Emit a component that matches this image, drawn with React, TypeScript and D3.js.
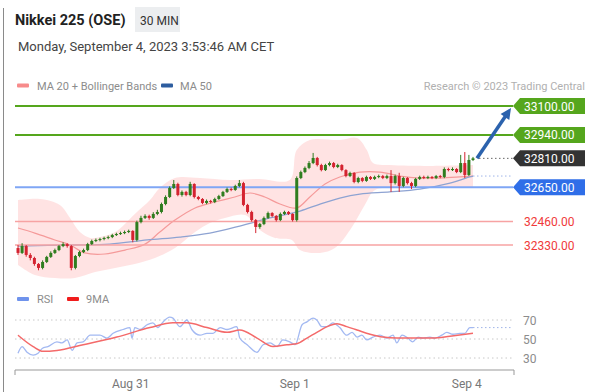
import React from "react";
import * as d3 from "d3";

// 30 min candles, Aug 30 -> Sep 4 (index based, weekend gap removed)
const firstOpen = 32313;
const closes = [
  32286, 32324, 32275, 32258, 32225, 32203, 32236, 32264, 32286, 32302,
  32324, 32335, 32324, 32203, 32269, 32291, 32302, 32335, 32352, 32358,
  32363, 32369, 32374, 32385, 32391, 32396, 32402, 32408, 32358, 32457,
  32480, 32491, 32480, 32502, 32513, 32557, 32596, 32646, 32668, 32607,
  32624, 32607, 32668, 32596, 32585, 32563, 32574, 32568, 32585, 32601,
  32624, 32640, 32635, 32657, 32673, 32552, 32513, 32468, 32430, 32446,
  32480, 32507, 32491, 32468, 32502, 32513, 32502, 32468, 32701, 32734,
  32757, 32784, 32812, 32773, 32745, 32773, 32784, 32762, 32773, 32745,
  32712, 32729, 32679, 32701, 32685, 32707, 32696, 32707, 32712, 32701,
  32712, 32673, 32712, 32657, 32701, 32673, 32657, 32696, 32707, 32701,
  32707, 32701, 32712, 32707, 32751, 32745, 32751, 32734, 32784, 32718,
  32801, 32810,
];
const highs = [
  32330, 32340, 32330, 32285, 32265, 32230, 32245, 32270, 32295, 32310,
  32330, 32345, 32340, 32330, 32275, 32298, 32310, 32342, 32360, 32366,
  32370, 32376, 32382, 32392, 32398, 32404, 32410, 32415, 32412, 32465,
  32492, 32500, 32498, 32512, 32525, 32565, 32605, 32655, 32690, 32675,
  32632, 32630, 32680, 32672, 32602, 32590, 32582, 32580, 32592, 32608,
  32630, 32648, 32648, 32664, 32690, 32680, 32558, 32520, 32474, 32452,
  32488, 32515, 32512, 32496, 32510, 32520, 32518, 32506, 32710, 32742,
  32765, 32795, 32840, 32818, 32780, 32780, 32792, 32790, 32780, 32778,
  32750, 32736, 32734, 32708, 32706, 32714, 32712, 32714, 32720, 32718,
  32720, 32745, 32720, 32730, 32708, 32706, 32680, 32702, 32714, 32714,
  32714, 32712, 32718, 32718, 32760, 32758, 32760, 32756, 32829, 32845,
  32829, 32818,
];
const lows = [
  32275, 32280, 32265, 32245, 32215, 32190, 32195, 32230, 32258, 32280,
  32296, 32318, 32315, 32190, 32195, 32262, 32285, 32296, 32330, 32346,
  32350, 32356, 32362, 32368, 32380, 32386, 32390, 32396, 32345, 32350,
  32450, 32474, 32470, 32474, 32495, 32505, 32550, 32590, 32640, 32600,
  32598, 32600, 32600, 32588, 32578, 32556, 32556, 32560, 32562, 32580,
  32596, 32618, 32628, 32630, 32650, 32545, 32505, 32460, 32396, 32420,
  32440, 32474, 32484, 32460, 32462, 32496, 32496, 32460, 32460, 32695,
  32728, 32750, 32778, 32765, 32738, 32740, 32766, 32755, 32756, 32738,
  32705, 32706, 32672, 32672, 32678, 32680, 32690, 32690, 32700, 32695,
  32695, 32624, 32665, 32624, 32650, 32665, 32640, 32650, 32690, 32695,
  32695, 32695, 32695, 32700, 32700, 32738, 32740, 32728, 32728, 32701,
  32712, 32795,
];

// indicator lines: [candle index, value]
const ma20: [number, number][] = [
  [0, 32424], [4.1, 32396], [9, 32358], [12.7, 32330], [16.3, 32286],
  [21.2, 32280], [26.1, 32302], [31, 32335], [34.6, 32402], [38.3, 32468],
  [43.2, 32535], [48, 32568], [52.9, 32596], [56.6, 32618], [60.2, 32596],
  [63.9, 32557], [68, 32535], [71.2, 32596], [74.9, 32668], [78.5, 32707],
  [83.4, 32734], [88.3, 32734], [93.2, 32712], [98, 32701], [102.9, 32701],
  [107.8, 32707], [111, 32712],
];
const bandUpper: [number, number][] = [
  [0, 32579], [5.4, 32585], [10.2, 32552], [12.7, 32480], [15.1, 32402],
  [17.6, 32369], [20, 32374], [23.7, 32402], [28.5, 32502], [32.2, 32579],
  [34.6, 32646], [38.3, 32701], [44.4, 32701], [51.7, 32690], [59, 32696],
  [66.3, 32690], [68, 32856], [71.2, 32912], [78.5, 32912], [82.7, 32923],
  [85.1, 32856], [86.6, 32784], [90.7, 32773], [100.5, 32768], [111, 32773],
];
const bandLower: [number, number][] = [
  [0, 32219], [4.1, 32164], [9, 32147], [13.9, 32147], [18.8, 32180],
  [23.7, 32203], [28.5, 32225], [33.4, 32258], [38.3, 32313], [43.2, 32402],
  [46.8, 32452], [50.5, 32480], [55.4, 32496], [59, 32413], [62.7, 32369],
  [66.8, 32358], [68.8, 32302], [73.7, 32286], [77.3, 32313], [81, 32413],
  [84.6, 32552], [87.1, 32635], [93.2, 32646], [102.9, 32646], [111, 32651],
];
const ma50: [number, number][] = [
  [0, 32324], [12.7, 32330], [22.4, 32335], [31.5, 32358], [39.5, 32374],
  [46.8, 32396], [54.1, 32435], [61.5, 32480], [68.8, 32518], [73.7, 32557],
  [78.5, 32590], [83.4, 32612], [90.7, 32624], [98, 32640], [105.4, 32673],
  [110.2, 32707], [111, 32712],
];

const rsi: [number, number][] = [
  [0, 35], [1, 42], [2.2, 36], [3.7, 33], [4.9, 35], [5.9, 40], [7.3, 42],
  [9.5, 47], [10.7, 46], [12, 49], [13.2, 38], [14.4, 46], [15.9, 47],
  [17.6, 54], [20, 54], [21.7, 51], [23.2, 56], [25.6, 60], [27.3, 62],
  [27.8, 51], [28.5, 62], [29.8, 60], [31.5, 65], [32.9, 67], [34.1, 62],
  [35.4, 68], [37, 73], [37.8, 72], [39.5, 63], [41.2, 70], [42.4, 60],
  [44.4, 54], [46.1, 56], [47.6, 56], [49.3, 62], [51, 60], [53.4, 63],
  [54.1, 51], [55.9, 44], [58.3, 36], [59.8, 44], [61.5, 46], [63.2, 42],
  [64.6, 49], [66.3, 47], [67.6, 44], [69.3, 65], [70.5, 68], [72, 72],
  [72.9, 70], [74.1, 63], [75.4, 63], [76.8, 67], [78.5, 62], [80.2, 54],
  [81.5, 57], [82.7, 52], [83.9, 54], [85.1, 49], [86.6, 52], [88.3, 54],
  [90, 51], [91.5, 54], [92.4, 46], [93.7, 54], [95.1, 51], [96.3, 47],
  [97.6, 52], [98.8, 51], [100.5, 52], [101.7, 51], [103.4, 54], [104.6, 57],
  [106.1, 55], [107.8, 56], [109, 56], [110.2, 62], [111, 62],
];
const rsiMa: [number, number][] = [
  [0, 54], [3.7, 42], [6.1, 37], [9.5, 38], [15.9, 44], [24.1, 52],
  [32.2, 62], [37.8, 67], [41.2, 67], [46.1, 62], [51, 57], [54.1, 59.5],
  [58.3, 51], [62.2, 42], [65.6, 44], [68, 45], [70.5, 51], [72.9, 57],
  [75.4, 63], [77.8, 66], [80.2, 63], [82.7, 59.5], [85.9, 55], [89, 52],
  [92.4, 51], [97.3, 51], [101.2, 51], [105.4, 53], [111, 56],
];

const resistances = [33100, 32940];
const supports = [32460, 32330];
const pivot = 32650;
const lastPrice = 32810;
const rsiLevels = [70, 50, 30];
const dateTicks: [number, string][] = [
  [27.5, "Aug 31"],
  [67.5, "Sep 1"],
  [109.5, "Sep 4"],
];

const W = 593;
const H = 392;
const FONT = "Roboto, 'Liberation Sans', Arial, sans-serif";
const GREEN = "#55a61d";
const UP = "#2f7d1f";
const DOWN = "#d42330";

export default function App() {
  const x = d3.scaleLinear().domain([0, closes.length - 1]).range([18, 473]);
  const y = d3.scaleLinear().domain([32330, 33100]).range([245, 106]);
  const ry = d3.scaleLinear().domain([30, 70]).range([358, 320]);

  const plotL = 15;
  const plotR = 513;

  const priceLine = d3
    .line<[number, number]>()
    .x((d) => x(d[0]))
    .y((d) => y(d[1]))
    .curve(d3.curveCatmullRom);
  const rsiLine = d3
    .line<[number, number]>()
    .x((d) => x(d[0]))
    .y((d) => ry(d[1]))
    .curve(d3.curveMonotoneX);

  const upperPath = priceLine(bandUpper) ?? "";
  const lowerPath = priceLine([...bandLower].reverse()) ?? "";
  const bandPath = upperPath + "L" + lowerPath.slice(1) + "Z";

  const opens = closes.map((_, i) => (i === 0 ? firstOpen : closes[i - 1]));

  const tag = (cy: number) =>
    `M${plotR},${cy} L${plotR + 7},${cy - 8} L585,${cy - 8} L585,${cy + 8} L${plotR + 7},${cy + 8} Z`;

  const tags = [
    { v: resistances[0], fill: GREEN },
    { v: resistances[1], fill: GREEN },
    { v: lastPrice, fill: "#333333" },
    { v: pivot, fill: "#2f6ee8" },
  ];

  const arrowStart = { x: x(closes.length - 1) + 4, y: y(lastPrice) };
  const arrowEnd = { x: 511, y: y(resistances[0]) + 2 };
  const ang = Math.atan2(arrowEnd.y - arrowStart.y, arrowEnd.x - arrowStart.x);
  const ah = 12;
  const head = [
    [arrowEnd.x, arrowEnd.y],
    [arrowEnd.x - ah * Math.cos(ang - 0.45), arrowEnd.y - ah * Math.sin(ang - 0.45)],
    [arrowEnd.x - ah * Math.cos(ang + 0.45), arrowEnd.y - ah * Math.sin(ang + 0.45)],
  ]
    .map((p) => p.join(","))
    .join(" ");

  return (
    <svg
      width={W}
      height={H}
      style={{ position: "absolute", left: 0, top: 0, background: "#fff" }}
      fontFamily={FONT}
    >
      <line x1={3.5} x2={3.5} y1={8} y2={H} stroke="#8a8a8a" />

      {/* header */}
      <text x={15} y={25} fontSize={14.5} fontWeight="bold" fill="#222">
        Nikkei 225 (OSE)
      </text>
      <rect x={135} y={7} width={45} height={25} fill="#eceef0" />
      <text x={140} y={24.5} fontSize={12} fill="#333">
        30 MIN
      </text>
      <text x={18} y={51} fontSize={13} fill="#444">
        Monday, September 4, 2023 3:53:46 AM CET
      </text>

      {/* legend */}
      <rect x={17} y={83.5} width={12} height={4} rx={1} fill="#f78b8b" />
      <text x={37} y={89.5} fontSize={11} fill="#8c8c8c">
        MA 20 + Bollinger Bands
      </text>
      <rect x={161} y={83.5} width={12} height={4} rx={1} fill="#2d5d9f" />
      <text x={180} y={89.5} fontSize={11} fill="#8c8c8c">
        MA 50
      </text>
      <text x={585} y={89.5} fontSize={11} fill="#b0b0b0" textAnchor="end">
        Research © 2023 Trading Central
      </text>

      {/* bollinger + MAs */}
      <path d={bandPath} fill="#ffdcdc" opacity={0.8} />
      <path d={priceLine(ma20) ?? ""} fill="none" stroke="#f59a9a" strokeWidth={1.2} />
      <path d={priceLine(ma50) ?? ""} fill="none" stroke="#8ea3d2" strokeWidth={1.3} />

      {/* levels */}
      {resistances.map((v) => (
        <line key={v} x1={plotL} x2={plotR} y1={y(v)} y2={y(v)} stroke={GREEN} strokeWidth={2} />
      ))}
      <line x1={plotL} x2={plotR} y1={y(pivot)} y2={y(pivot)} stroke="#7fa6f5" strokeWidth={2} />
      {supports.map((v) => (
        <line key={v} x1={plotL} x2={plotR} y1={y(v)} y2={y(v)} stroke="#f7a3a3" strokeWidth={1.5} />
      ))}
      <line
        x1={x(closes.length - 1) + 6}
        x2={plotR}
        y1={y(lastPrice)}
        y2={y(lastPrice)}
        stroke="#666"
        strokeDasharray="1.5,2.5"
      />
      <line
        x1={x(closes.length - 1)}
        x2={plotR}
        y1={y(ma50[ma50.length - 1][1])}
        y2={y(ma50[ma50.length - 1][1])}
        stroke="#9fb4e8"
        strokeDasharray="1.5,2.5"
      />

      {/* candles */}
      {closes.map((c, i) => {
        const o = opens[i];
        const col = c >= o ? UP : DOWN;
        const top = y(Math.max(o, c));
        const bot = y(Math.min(o, c));
        return (
          <g key={i}>
            <line x1={x(i)} x2={x(i)} y1={y(highs[i])} y2={y(lows[i])} stroke={col} strokeWidth={1} />
            <rect x={x(i) - 1.5} y={top} width={3} height={Math.max(1, bot - top)} fill={col} />
          </g>
        );
      })}

      {/* arrow */}
      <line
        x1={arrowStart.x}
        y1={arrowStart.y}
        x2={arrowEnd.x - 6 * Math.cos(ang)}
        y2={arrowEnd.y - 6 * Math.sin(ang)}
        stroke="#2b62ad"
        strokeWidth={3.5}
      />
      <polygon points={head} fill="#2b62ad" />

      {/* price tags */}
      {tags.map((t) => (
        <g key={t.v}>
          <path d={tag(y(t.v))} fill={t.fill} />
          <text x={524} y={y(t.v) + 4.5} fontSize={12} fill="#fff">
            {t.v.toFixed(2)}
          </text>
        </g>
      ))}
      {supports.map((v) => (
        <text key={v} x={524} y={y(v) + 4.5} fontSize={12} fill="#f03a3a">
          {v.toFixed(2)}
        </text>
      ))}

      {/* RSI */}
      <rect x={17} y={297} width={12} height={4} rx={1} fill="#6f93ec" />
      <text x={37} y={303} fontSize={11} fill="#8c8c8c">
        RSI
      </text>
      <rect x={67} y={297} width={12} height={4} rx={1} fill="#f01c1c" />
      <text x={86} y={303} fontSize={11} fill="#8c8c8c">
        9MA
      </text>
      {rsiLevels.map((v) => (
        <g key={v}>
          <line
            x1={plotL}
            x2={plotR}
            y1={ry(v)}
            y2={ry(v)}
            stroke="#c8c8c8"
            strokeDasharray="1.5,3"
          />
          <text x={523} y={ry(v) + 4.5} fontSize={12} fill="#8c8c8c">
            {v}
          </text>
        </g>
      ))}
      <line
        x1={x(closes.length - 1)}
        x2={plotR}
        y1={ry(rsi[rsi.length - 1][1])}
        y2={ry(rsi[rsi.length - 1][1])}
        stroke="#9fb4e8"
        strokeDasharray="1.5,2.5"
      />
      <path d={rsiLine(rsi) ?? ""} fill="none" stroke="#a3b9f2" strokeWidth={1.3} />
      <path d={rsiLine(rsiMa) ?? ""} fill="none" stroke="#f46a6a" strokeWidth={1.5} />

      {/* time axis */}
      <path d={`M${plotL},375 V370 H${plotR + 1} V375`} fill="none" stroke="#999" />
      {dateTicks.map(([i, label]) => (
        <text key={label} x={x(i)} y={388} fontSize={12} fill="#777" textAnchor="middle">
          {label}
        </text>
      ))}
    </svg>
  );
}
